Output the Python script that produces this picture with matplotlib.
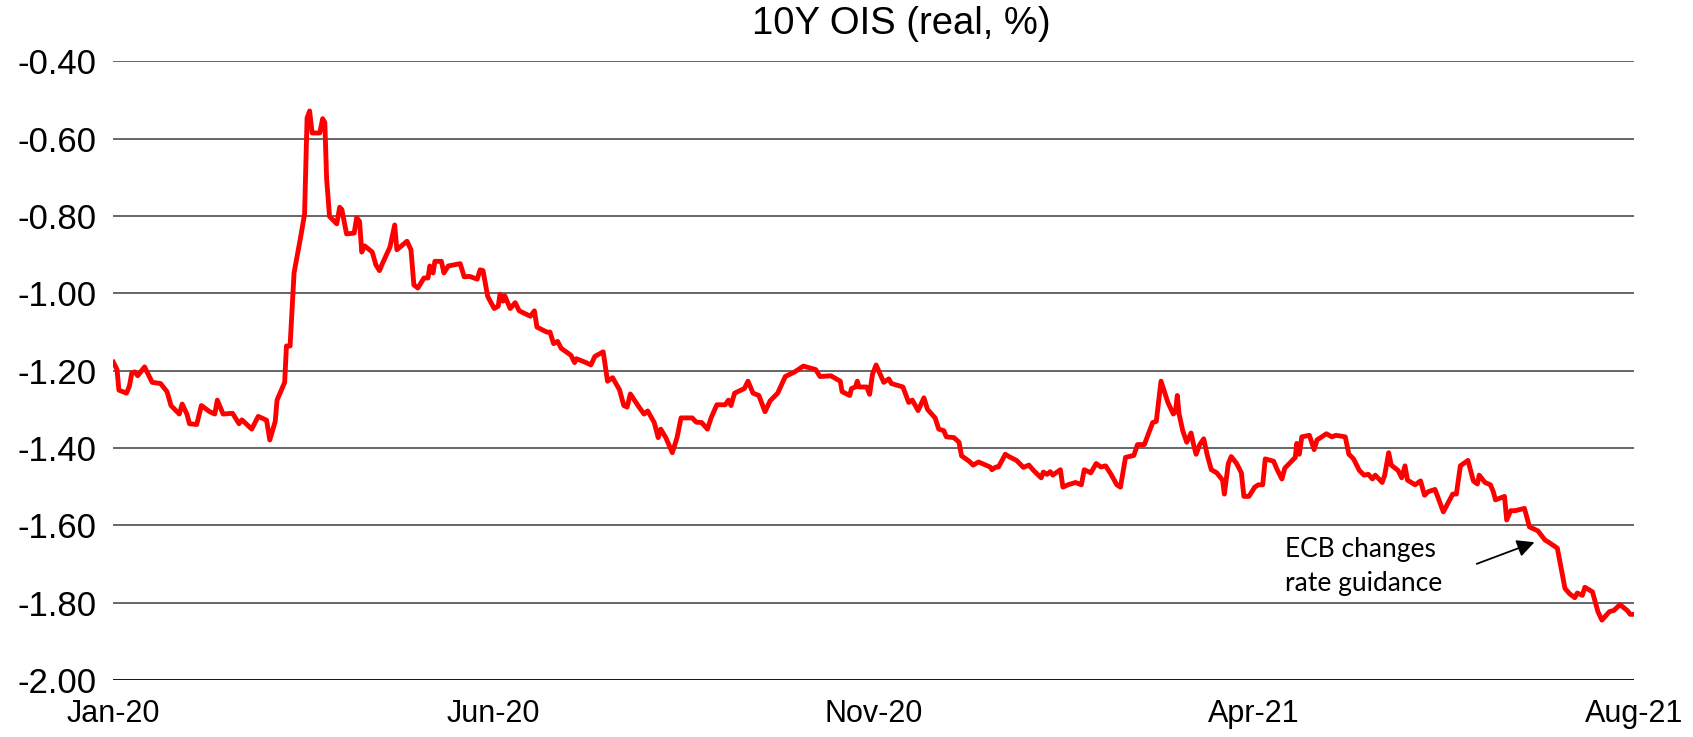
import numpy as np
import matplotlib
matplotlib.use('Agg')
import matplotlib.pyplot as plt

# trading-day position (0 = start of Jan-20, 420 = Aug-21) and 10Y OIS real yield (%)
day = [0, 1, 1.5, 3.6, 4.4, 5.1, 5.9, 6.7, 8.6, 10.7, 13, 14.8, 15.9, 18.2, 19, 20.3, 21, 23,
       24.3, 26.6, 28, 28.7, 30.3, 32.9, 34.7, 35.5, 38.2, 40, 42.3, 43.2, 44.7, 45.2, 47.3,
       47.8, 48.8, 49.9, 51.8, 52.8, 53.5, 54.2, 54.9, 57, 57.8, 58.4, 58.9, 59.7, 61.7, 62.5,
       63.1, 64.4, 66.5, 67.2, 68, 68.6, 69.4, 71.5, 72.5, 73.5, 74.3, 76.4, 77.7, 78.3, 81.1,
       82.2, 83, 84.1, 85.8, 86.9, 87.4, 88.3, 88.8, 90.6, 91.3, 92.5, 95.8, 96.9, 98.4, 100.5,
       101.3, 102.1, 103.4, 105.2, 106.3, 106.8, 107.6, 108.1, 109.6, 111, 112.1, 115.2, 116.3,
       117, 119.7, 120.6, 121.6, 122.7, 123.7, 126.4, 127.4, 127.9, 130.6, 131.9, 133, 135.3,
       136.5, 137.9, 139.8, 141, 141.9, 142.8, 145.2, 146.6, 147.6, 149.4, 150.5, 151.2, 152.6,
       154.4, 155.7, 156.8, 159.9, 161, 162.5, 164.1, 165.1, 166.7, 169, 169.9, 170.6, 171.6,
       174.3, 175.3, 176.7, 178.3, 180, 181.4, 183.5, 185.6, 188.2, 190.6, 194, 195.2, 198.2,
       200.8, 201.3, 203.4, 203.9, 205, 205.5, 206, 208.1, 208.9, 209.7, 210.7, 212.8, 214.2,
       214.9, 218.1, 219.7, 220.7, 222.3, 223.9, 224.9, 227, 228, 229.4, 230.1, 232.2, 233.6,
       234.3, 236.4, 237.5, 239, 242.2, 242.7, 243.8, 244.5, 246.4, 247.4, 249.5, 251.4, 252.9,
       254.2, 256.3, 256.9, 257.9, 258.8, 259.5, 261.6, 262.3, 263.7, 265.8, 267.4, 268.2, 270,
       271.5, 272.8, 274.1, 275.6, 277.2, 278.2, 279.6, 281.9, 282.9, 284.8, 287.1, 288.1,
       289.4, 291.3, 292.8, 293.4, 293.9, 294.4, 295.4, 296.5, 297.7, 298.4, 299.1, 300.1,
       301.2, 302.2, 303.3, 304.8, 306.4, 306.9, 308, 308.8, 310.3, 311.6, 312.3, 313.7, 315.3,
       316.3, 317.5, 318.2, 320.5, 321.5, 322.8, 323.6, 325.7, 326.5, 326.9, 327.6, 328.3,
       330.4, 331.7, 332.5, 335.1, 336.6, 337.7, 340.3, 341.3, 342.6, 344.2, 345.5, 346.7,
       347.8, 348.6, 350.5, 351.2, 352.3, 353, 354.9, 355.9, 356.8, 357.5, 359.6, 361.1, 362.2,
       363.2, 365.1, 367.4, 370, 371, 372.1, 374.2, 375.7, 376.8, 377.3, 378.9, 380.4, 381.2,
       381.8, 384.3, 384.9, 386, 387.2, 389.8, 391.2, 393.5, 395.5, 396.4, 398.9, 399.9, 401,
       402.3, 403.7, 404.4, 405.8, 406.5, 408.6, 410.1, 411.2, 413.3, 414.5, 416.2, 418.3, 419,
       420]
ois = [-1.178, -1.197, -1.25, -1.258, -1.24, -1.205, -1.203, -1.213, -1.19, -1.23, -1.233,
       -1.254, -1.29, -1.312, -1.286, -1.312, -1.337, -1.339, -1.29, -1.306, -1.312, -1.276,
       -1.312, -1.31, -1.337, -1.327, -1.351, -1.318, -1.328, -1.379, -1.331, -1.276, -1.23,
       -1.136, -1.136, -0.947, -0.85, -0.795, -0.546, -0.528, -0.585, -0.585, -0.548, -0.558,
       -0.704, -0.801, -0.82, -0.777, -0.783, -0.846, -0.844, -0.804, -0.814, -0.893, -0.877,
       -0.893, -0.926, -0.941, -0.923, -0.88, -0.823, -0.887, -0.865, -0.887, -0.978, -0.986,
       -0.96, -0.96, -0.929, -0.947, -0.917, -0.917, -0.947, -0.929, -0.923, -0.957, -0.956,
       -0.963, -0.939, -0.941, -1.008, -1.039, -1.033, -1.002, -1.02, -1.006, -1.039, -1.024,
       -1.045, -1.059, -1.045, -1.087, -1.1, -1.10, -1.13, -1.124, -1.142, -1.16, -1.179,
       -1.169, -1.179, -1.185, -1.163, -1.151, -1.227, -1.218, -1.249, -1.29, -1.294, -1.26,
       -1.294, -1.312, -1.304, -1.334, -1.373, -1.351, -1.373, -1.412, -1.373, -1.322, -1.322,
       -1.333, -1.334, -1.351, -1.322, -1.288, -1.288, -1.276, -1.29, -1.258, -1.246, -1.227,
       -1.258, -1.264, -1.306, -1.278, -1.258, -1.215, -1.203, -1.188, -1.197, -1.215, -1.213,
       -1.227, -1.254, -1.264, -1.246, -1.242, -1.227, -1.242, -1.242, -1.261, -1.209, -1.185,
       -1.23, -1.221, -1.233, -1.242, -1.282, -1.276, -1.303, -1.27, -1.30, -1.322, -1.351,
       -1.355, -1.371, -1.373, -1.385, -1.42, -1.434, -1.444, -1.436, -1.449, -1.456, -1.449,
       -1.449, -1.416, -1.422, -1.432, -1.45, -1.444, -1.458, -1.477, -1.462, -1.468, -1.461,
       -1.47, -1.456, -1.501, -1.495, -1.489, -1.495, -1.456, -1.464, -1.44, -1.449, -1.446,
       -1.468, -1.495, -1.501, -1.424, -1.419, -1.391, -1.391, -1.334, -1.331, -1.227, -1.282,
       -1.312, -1.306, -1.264, -1.312, -1.355, -1.385, -1.361, -1.391, -1.416, -1.391, -1.376,
       -1.419, -1.456, -1.464, -1.483, -1.519, -1.44, -1.422, -1.44, -1.464, -1.525, -1.525,
       -1.501, -1.495, -1.495, -1.428, -1.434, -1.456, -1.48, -1.452, -1.432, -1.424, -1.388,
       -1.416, -1.371, -1.367, -1.404, -1.379, -1.363, -1.371, -1.367, -1.371, -1.416, -1.428,
       -1.458, -1.47, -1.468, -1.48, -1.47, -1.489, -1.47, -1.412, -1.444, -1.458, -1.477,
       -1.446, -1.483, -1.495, -1.485, -1.522, -1.513, -1.507, -1.565, -1.519, -1.519, -1.446,
       -1.432, -1.485, -1.493, -1.47, -1.489, -1.495, -1.513, -1.534, -1.525, -1.586, -1.562,
       -1.562, -1.556, -1.604, -1.614, -1.638, -1.643, -1.659, -1.708, -1.763, -1.777, -1.787,
       -1.775, -1.781, -1.76, -1.772, -1.823, -1.845, -1.823, -1.82, -1.805, -1.821, -1.83,
       -1.83]

tick_pos = [0, 105, 210, 315, 420]
tick_labels = ['Jan-20', 'Jun-20', 'Nov-20', 'Apr-21', 'Aug-21']
y_ticks = [-2.0, -1.8, -1.6, -1.4, -1.2, -1.0, -0.8, -0.6, -0.4]

plt.rcParams['font.family'] = ['Liberation Sans', 'DejaVu Sans']

fig = plt.figure(figsize=(16.93, 7.37), dpi=100)
ax = fig.add_axes([0.067, 0.0773, 0.898, 0.8393])

for yv in y_ticks[1:]:
    ax.axhline(yv, color='#4d4d4d', lw=1.2, zorder=1)
ax.axhline(-2.0, color='black', lw=1.3, zorder=1)

ax.plot(day, ois, color='#ff0000', lw=3.5, zorder=3, solid_joinstyle='round')

ax.set_xlim(0, 420)
ax.set_ylim(-2.0, -0.4)
ax.set_yticks(y_ticks)
ax.set_yticklabels(['%.2f' % v for v in y_ticks])
ax.set_xticks(tick_pos)
ax.set_xticklabels(tick_labels)
ax.tick_params(axis='y', length=0, pad=12, labelsize=25)
ax.tick_params(axis='x', length=0, pad=14, labelsize=22)
for s in ax.spines.values():
    s.set_visible(False)

fig.text(0.5326, 0.968, '10Y OIS (real, %)', ha='center', va='center', fontsize=27.5)

ax.annotate('', xy=(393.3, -1.641), xytext=(375.9, -1.702),
            arrowprops=dict(arrowstyle='-|>', color='black', lw=1.3, mutation_scale=26))
ax.text(323.6, -1.706, 'ECB changes\nrate guidance', fontsize=19, family=['Lato', 'DejaVu Sans'],
        ha='left', va='center', linespacing=1.45)

fig.savefig('out.png', dpi=100)
